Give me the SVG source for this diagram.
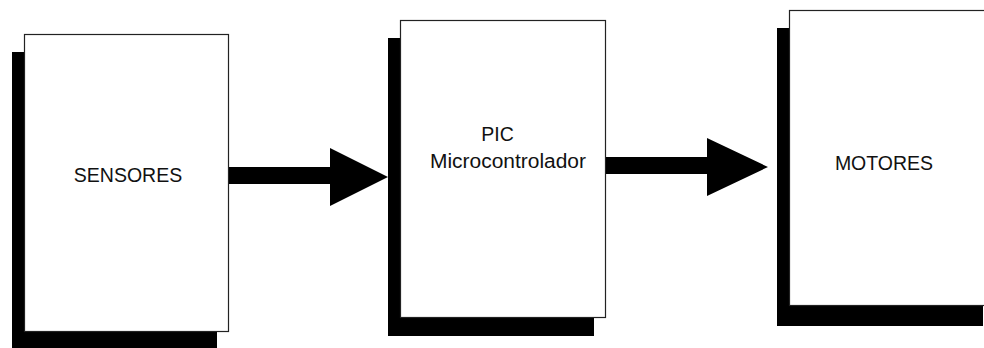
<svg xmlns="http://www.w3.org/2000/svg" width="984" height="348" viewBox="0 0 984 348">
<style>
.shadow{fill:#000}
.box{fill:#fff;stroke:#222;stroke-width:1.2}
.lbl{font-family:"Liberation Sans",Arial,sans-serif;font-size:19.5px;fill:#111;text-anchor:middle}
.arrow{fill:#000}
</style>
<rect width="984" height="348" fill="#fff"/>
<g id="sensores">
<rect class="shadow" x="12" y="52" width="205" height="296"/>
<rect class="box" x="24.5" y="34.5" width="204" height="297"/>
<text class="lbl" x="128" y="182">SENSORES</text>
</g>
<g id="pic">
<rect class="shadow" x="388" y="38" width="206" height="298"/>
<rect class="box" x="400.5" y="20.5" width="205" height="297"/>
<text class="lbl" x="497.5" y="141">PIC</text>
<text class="lbl" x="508" y="168" textLength="156" lengthAdjust="spacingAndGlyphs">Microcontrolador</text>
</g>
<g id="motores">
<rect class="shadow" x="777" y="28" width="206" height="298"/>
<rect class="box" x="789.5" y="10.5" width="205" height="295"/>
<text class="lbl" x="884" y="170">MOTORES</text>
</g>
<g id="connectors">
<polygon class="arrow" points="229,167 330,167 330,148 388,177 330,206 330,184 229,184"/>
<polygon class="arrow" points="606,157 707,157 707,138 768,167 707,196 707,174 606,174"/>
</g>
</svg>
